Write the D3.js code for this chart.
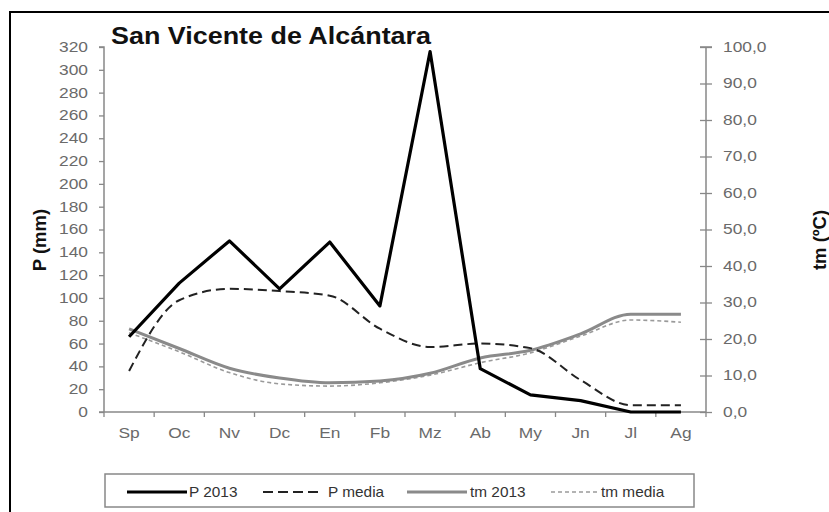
<!DOCTYPE html>
<html><head><meta charset="utf-8">
<script src="https://cdn.jsdelivr.net/npm/d3@7"></script>
<style>body{margin:0;background:#fff}svg{display:block}</style>
</head><body>
<script>
const months = ["Sp","Oc","Nv","Dc","En","Fb","Mz","Ab","My","Jn","Jl","Ag"];
const p2013 = [66,113,150,108,149,93,316,38,15,10,0,0];
const pMedia = [36,98,108,106,102,73,57,60,56,28,6,6];
const tm2013 = [22.8,17.4,12.0,9.3,8.0,8.5,10.6,14.8,16.9,21.4,26.8,26.8];
const tmMedia = [21.7,16.5,10.8,7.7,7.1,8.0,10.1,13.5,16.2,20.8,25.2,24.6];
const pTicks = d3.range(0,321,20);
const tTicks = d3.range(0,101,10);
const legendLabels = ["P 2013","P media","tm 2013","tm media"];

const W=829,H=512;
const svg=d3.select("body").append("svg").attr("width",W).attr("height",H);
const font="Liberation Sans, Arial, sans-serif";
function stretch(sel,k){
  sel.each(function(){
    const n=this.getComputedTextLength();
    d3.select(this).attr("textLength",n*k).attr("lengthAdjust","spacingAndGlyphs");
  });
}
svg.append("rect").attr("x",10).attr("y",12).attr("width",W).attr("height",H)
  .attr("fill","none").attr("stroke","#000").attr("stroke-width",2);

const x0=104,x1=706,yTop=47,yBot=412;
const xb=d3.scaleBand().domain(months).range([x0,x1]);
const xc=d=>xb(d)+xb.bandwidth()/2;
const yP=d3.scaleLinear().domain([0,320]).range([yBot,yTop]);
const yT=d3.scaleLinear().domain([0,100]).range([yBot,yTop]);
const axisCol="#888", labCol="#6a6a6a";

const la=svg.append("g").attr("transform",`translate(${x0},0)`)
  .call(d3.axisLeft(yP).tickValues(pTicks).tickSize(5).tickPadding(11).tickFormat(d3.format("d")));
const ra=svg.append("g").attr("transform",`translate(${x1},0)`)
  .call(d3.axisRight(yT).tickValues(tTicks).tickSize(6).tickPadding(11).tickFormat(d=>d3.format(".1f")(d).replace(".",",")));
ra.selectAll(".tick line").attr("x1",-6);
const ba=svg.append("g").attr("transform",`translate(0,${yBot})`)
  .call(d3.axisBottom(xb).tickSize(0).tickPadding(16));
svg.append("g").selectAll("line").data(d3.range(0,13)).join("line")
  .attr("x1",i=>x0+i*xb.bandwidth()).attr("x2",i=>x0+i*xb.bandwidth())
  .attr("y1",yBot).attr("y2",yBot+5).attr("stroke",axisCol).attr("stroke-width",1.3);
[la,ra,ba].forEach(g=>{
  g.selectAll(".domain").attr("stroke",axisCol).attr("stroke-width",1.5);
  g.selectAll(".tick line").attr("stroke",axisCol).attr("stroke-width",1.3);
  g.selectAll("text").attr("fill",labCol).attr("font-family",font).attr("font-size",14);
  stretch(g.selectAll("text"),1.24);
});
ba.select(".domain").attr("d",`M${x0-5},0H${x1}`);
la.select(".domain").attr("d",`M-5,${yTop}H0V${yBot}`);
ra.select(".domain").attr("d",`M-6,${yTop}H6M0,${yTop}V${yBot}`);

const smooth=d3.curveMonotoneX;
const lineP=d3.line().x((d,i)=>xc(months[i])).y(d=>yP(d));
const lineT=d3.line().x((d,i)=>xc(months[i])).y(d=>yT(d));
const g=svg.append("g").attr("fill","none").attr("stroke-linejoin","round");
g.append("path").attr("d",lineT.curve(smooth)(tmMedia)).attr("stroke","#9a9a9a").attr("stroke-width",1.6).attr("stroke-dasharray","4,3");
g.append("path").attr("d",lineT.curve(smooth)(tm2013)).attr("stroke","#8a8a8a").attr("stroke-width",3);
g.append("path").attr("d",lineP.curve(smooth)(pMedia)).attr("stroke","#222").attr("stroke-width",2).attr("stroke-dasharray","9,5");
g.append("path").attr("d",lineP.curve(d3.curveLinear)(p2013)).attr("stroke","#000").attr("stroke-width",3.2);

const title=svg.append("text").attr("x",111).attr("y",44).text("San Vicente de Alcántara")
  .attr("font-family",font).attr("font-weight","bold").attr("font-size",23).attr("fill","#111");
title.attr("textLength",320).attr("lengthAdjust","spacingAndGlyphs");
svg.append("text").attr("transform","translate(46,240) rotate(-90)").attr("text-anchor","middle")
  .text("P (mm)").attr("font-family",font).attr("font-weight","bold").attr("font-size",18.5).attr("fill","#111");
svg.append("text").attr("transform","translate(826,240) rotate(-90)").attr("text-anchor","middle")
  .text("tm (ºC)").attr("font-family",font).attr("font-weight","bold").attr("font-size",18.5).attr("fill","#111");

const lg=svg.append("g");
lg.append("rect").attr("x",105).attr("y",474).attr("width",589).attr("height",33)
  .attr("fill","#fff").attr("stroke","#888").attr("stroke-width",1.5);
const items=[
  {x1:127,x2:187,tx:189,stroke:"#000",w:3.2,dash:null},
  {x1:263,x2:318,tx:328,stroke:"#222",w:2,dash:"10,5"},
  {x1:407,x2:467,tx:470,stroke:"#8a8a8a",w:3,dash:null},
  {x1:551,x2:598,tx:601,stroke:"#9a9a9a",w:1.6,dash:"4,3"}];
items.forEach((it,i)=>{
  lg.append("line").attr("x1",it.x1).attr("x2",it.x2).attr("y1",492).attr("y2",492)
    .attr("stroke",it.stroke).attr("stroke-width",it.w).attr("stroke-dasharray",it.dash);
  const t=lg.append("text").attr("x",it.tx).attr("y",497).text(legendLabels[i])
    .attr("font-family",font).attr("font-size",14.5).attr("fill","#333");
  stretch(t,1.06);
});
</script>
</body></html>
